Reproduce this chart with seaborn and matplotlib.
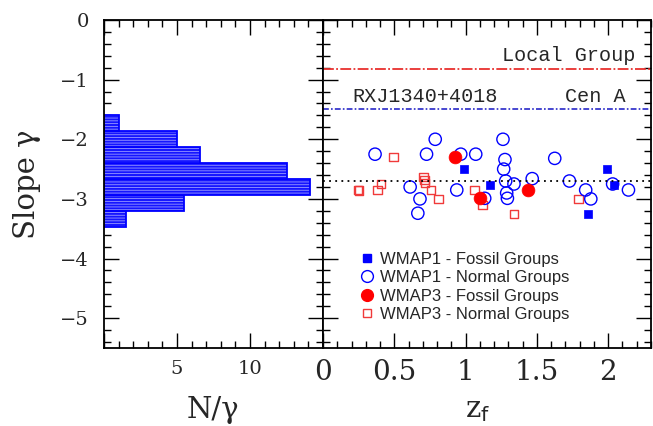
import numpy as np
import pandas as pd
import matplotlib
matplotlib.use("Agg")
import matplotlib.pyplot as plt
import matplotlib.colors as mcolors
from matplotlib.lines import Line2D
from matplotlib.ticker import MultipleLocator, FuncFormatter
import seaborn as sns

# ---------------- data ----------------
hist_edges = [-3.467, -3.2, -2.933, -2.667, -2.4, -2.133, -1.867, -1.6]
hist_values = [1.5, 5.5, 14.1, 12.55, 6.55, 5.0, 1.0]  # N/gamma per bin (low -> high slope)

wmap1_fossil_z = [0.99, 1.174, 1.994, 2.043, 1.859]
wmap1_fossil_g = [-2.50, -2.76, -2.50, -2.76, -3.25]

wmap1_normal_z = [0.365, 0.726, 0.787, 0.966, 1.071, 1.262, 1.276, 1.267, 1.281, 1.339,
                  1.288, 1.293, 1.134, 1.467, 1.625, 1.728, 1.842, 1.878, 2.031, 2.142,
                  0.611, 0.680, 0.665, 0.938]
wmap1_normal_g = [-2.25, -2.25, -2.0, -2.25, -2.25, -2.0, -2.34, -2.50, -2.70, -2.75,
                  -2.90, -2.99, -2.99, -2.66, -2.32, -2.70, -2.85, -3.0, -2.75, -2.85,
                  -2.80, -3.0, -3.24, -2.85]

wmap3_fossil_z = [0.924, 1.099, 1.437]
wmap3_fossil_g = [-2.30, -2.99, -2.85]

wmap3_normal_z = [0.245, 0.252, 0.383, 0.407, 0.495, 0.705, 0.712, 0.715, 0.757, 0.808,
                  1.062, 1.118, 1.339, 1.790]
wmap3_normal_g = [-2.85, -2.86, -2.85, -2.75, -2.30, -2.63, -2.68, -2.73, -2.85, -3.0,
                  -2.85, -3.10, -3.25, -3.0]

local_group_slope = -0.82
rxj_cena_slope = -1.5
mean_slope = -2.7

legend_labels = ["WMAP1 - Fossil Groups", "WMAP1 - Normal Groups",
                 "WMAP3 - Fossil Groups", "WMAP3 - Normal Groups"]

# ---------------- style ----------------
sns.set_style("ticks")
plt.rcParams["font.family"] = ["DejaVu Serif"]
plt.rcParams["mathtext.fontset"] = "dejavuserif"
plt.rcParams["hatch.linewidth"] = 0.6
plt.rcParams["axes.unicode_minus"] = True

fig = plt.figure(figsize=(6.53, 4.26), dpi=100)
bottom = 1 - 348 / 426
height = 328 / 426
ax_h = fig.add_axes([104 / 653, bottom, 219 / 653, height])
ax_s = fig.add_axes([323 / 653, bottom, 328 / 653, height])

# ---------------- histogram ----------------
centers = [(hist_edges[i] + hist_edges[i + 1]) / 2 for i in range(len(hist_values))]
hdf = pd.DataFrame({"slope": centers, "n": hist_values})
sns.histplot(data=hdf, y="slope", weights="n", bins=hist_edges, ax=ax_h,
             color="#1515ff", edgecolor="blue", linewidth=1.3, alpha=1)
for p in ax_h.patches:
    p.set_hatch("------")
    p._hatch_color = mcolors.to_rgba("#9a9aff")

ax_h.set_xlim(0, 15)
ax_h.set_ylim(-5.5, 0)
ax_h.set_xlabel("")
ax_h.set_ylabel("")

# ---------------- scatter ----------------
sns.scatterplot(x=wmap3_normal_z, y=wmap3_normal_g, ax=ax_s, marker="s", s=38,
                color="#f03a3a", facecolors="none", edgecolor="#f03a3a", linewidth=1.0)
sns.scatterplot(x=wmap1_normal_z, y=wmap1_normal_g, ax=ax_s, marker="o", s=78,
                color="blue", facecolors="none", edgecolor="blue", linewidth=1.0)
sns.scatterplot(x=wmap1_fossil_z, y=wmap1_fossil_g, ax=ax_s, marker="s", s=36,
                color="blue", edgecolor="blue", linewidth=0.5)
sns.scatterplot(x=wmap3_fossil_z, y=wmap3_fossil_g, ax=ax_s, marker="o", s=85,
                color="red", edgecolor="red", linewidth=0.5)

ax_s.axhline(local_group_slope, color="#e8302e", lw=1.3, dashes=(6, 1.3, 1, 1.3))
ax_s.axhline(rxj_cena_slope, color="#2828c8", lw=1.2, dashes=(3.5, 1.3, 1, 1.3))
ax_s.axhline(mean_slope, color="black", lw=1.3, linestyle=(0, (1, 2.4)))

mono = ["Liberation Mono", "DejaVu Sans Mono"]
ax_s.text(2.19, -0.687, "Local Group", ha="right", va="baseline", fontsize=14.5,
          family=mono)
ax_s.text(0.206, -1.374, "RXJ1340+4018", ha="left", va="baseline", fontsize=14.5,
          family=mono)
ax_s.text(2.122, -1.374, "Cen A", ha="right", va="baseline", fontsize=14.5,
          family=mono)

ax_s.set_xlim(0, 2.3)
ax_s.set_ylim(-5.5, 0)
ax_s.set_xlabel("")
ax_s.set_ylabel("")

handles = [
    Line2D([], [], ls="none", marker="s", ms=6, mfc="blue", mec="blue"),
    Line2D([], [], ls="none", marker="o", ms=8.5, mfc="none", mec="blue", mew=1.0),
    Line2D([], [], ls="none", marker="o", ms=8.5, mfc="red", mec="red"),
    Line2D([], [], ls="none", marker="s", ms=6, mfc="none", mec="#f03a3a", mew=1.0),
]
leg = ax_s.legend(handles, legend_labels, loc="upper left", bbox_to_anchor=(0.113, 0.293),
                  frameon=False, borderpad=0, borderaxespad=0, handlelength=0.8,
                  handletextpad=0.4, labelspacing=0.2,
                  prop={"family": "Liberation Sans", "size": 12})

# ---------------- axes cosmetics ----------------
for ax in (ax_h, ax_s):
    for sp in ax.spines.values():
        sp.set_visible(True)
        sp.set_linewidth(1.3)
        sp.set_color("black")
    ax.yaxis.set_major_locator(MultipleLocator(1))
    ax.yaxis.set_minor_locator(MultipleLocator(0.2))
    ax.tick_params(which="both", direction="in", top=True, right=True,
                   bottom=True, left=True, color="black")
    ax.tick_params(which="major", length=10.8, width=1.0)
    ax.tick_params(which="minor", length=5.0, width=1.0)

ax_h.xaxis.set_major_locator(MultipleLocator(5))
ax_h.xaxis.set_minor_locator(MultipleLocator(1))
ax_h.xaxis.set_major_formatter(FuncFormatter(lambda v, p: f"{v:g}" if 0 < v < 15 else ""))
ax_h.yaxis.set_major_formatter(FuncFormatter(lambda v, p: f"{v:g}".replace("-", "\u2212")))
ax_h.tick_params(axis="x", which="major", labelsize=14, pad=9)
ax_h.tick_params(axis="y", which="major", labelsize=14, pad=11)

ax_s.xaxis.set_major_locator(MultipleLocator(0.5))
ax_s.xaxis.set_minor_locator(MultipleLocator(0.1))
ax_s.xaxis.set_major_formatter(FuncFormatter(lambda v, p: f"{v:g}"))
ax_s.tick_params(axis="x", which="major", labelsize=20, pad=8)
ax_s.tick_params(axis="y", labelleft=False)

# axis labels
fig.text(27 / 653, 1 - 184 / 426, "Slope \u03b3", rotation=90, ha="center", va="center",
         fontsize=21)
fig.text(213 / 653, 1 - 418 / 426, "N/\u03b3", ha="center", va="baseline", fontsize=21)
fig.text(478 / 653, 1 - 417 / 426, r"$\mathrm{z}_\mathsf{f}$", ha="center", va="baseline",
         fontsize=21)

fig.savefig("out.png", dpi=100)
